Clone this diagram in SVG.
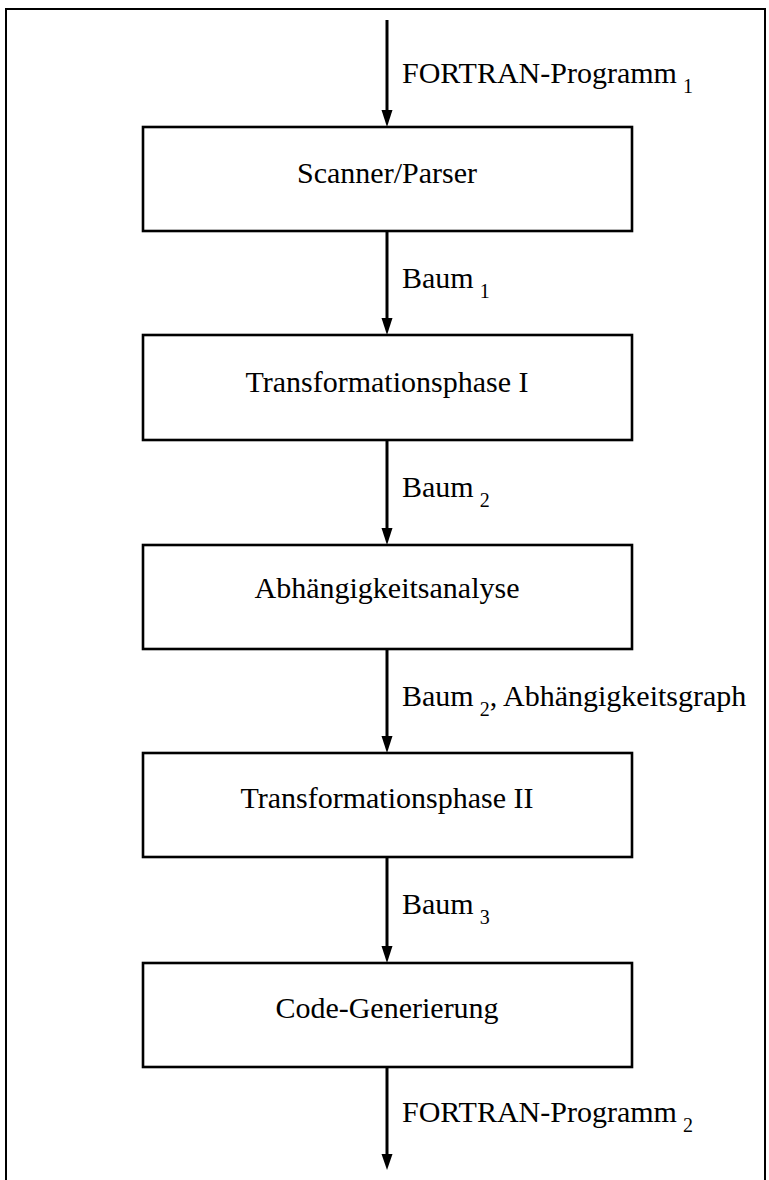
<svg xmlns="http://www.w3.org/2000/svg" width="769" height="1180" viewBox="0 0 769 1180">
<style>
.box{fill:#fff;stroke:#000;stroke-width:2.6}
.lbl{font-family:"Liberation Serif","Times New Roman",serif;font-size:30px;fill:#000}
.sub{font-size:20px}
.edge{stroke:#000;stroke-width:3;fill:none}
.head{fill:#000}
.frame{stroke:#000;stroke-width:2;fill:none}
</style>
<path class="frame" d="M6,1180 V9 H765 V1180"/>
<g id="edges">
<path class="edge" d="M387,20 V114"/>
<path class="head" d="M381.5,110 L387,127 L392.5,110 Z"/>
<path class="edge" d="M387,231 V322"/>
<path class="head" d="M381.5,318 L387,335 L392.5,318 Z"/>
<path class="edge" d="M387,440 V532"/>
<path class="head" d="M381.5,528 L387,545 L392.5,528 Z"/>
<path class="edge" d="M387,649 V740"/>
<path class="head" d="M381.5,736 L387,753 L392.5,736 Z"/>
<path class="edge" d="M387,857 V950"/>
<path class="head" d="M381.5,946 L387,963 L392.5,946 Z"/>
<path class="edge" d="M387,1067 V1158"/>
<path class="head" d="M381.5,1154 L387,1170 L392.5,1154 Z"/>
<text class="lbl" x="402" y="83">FORTRAN-Programm<tspan class="sub" dx="6" dy="10">1</tspan></text>
<text class="lbl" x="402" y="288">Baum<tspan class="sub" dx="6" dy="10">1</tspan></text>
<text class="lbl" x="402" y="497">Baum<tspan class="sub" dx="6" dy="10">2</tspan></text>
<text class="lbl" x="402" y="706">Baum<tspan class="sub" dx="6" dy="10">2</tspan><tspan dy="-10">, Abhängigkeitsgraph</tspan></text>
<text class="lbl" x="402" y="914">Baum<tspan class="sub" dx="6" dy="10">3</tspan></text>
<text class="lbl" x="402" y="1122">FORTRAN-Programm<tspan class="sub" dx="6" dy="10">2</tspan></text>
</g>
<g id="n1"><rect class="box" x="143" y="127" width="489" height="104"/><text class="lbl" x="387" y="183" text-anchor="middle">Scanner/Parser</text></g>
<g id="n2"><rect class="box" x="143" y="335" width="489" height="105"/><text class="lbl" x="387" y="392" text-anchor="middle">Transformationsphase I</text></g>
<g id="n3"><rect class="box" x="143" y="545" width="489" height="104"/><text class="lbl" x="387" y="598" text-anchor="middle">Abhängigkeitsanalyse</text></g>
<g id="n4"><rect class="box" x="143" y="753" width="489" height="104"/><text class="lbl" x="387" y="808" text-anchor="middle">Transformationsphase II</text></g>
<g id="n5"><rect class="box" x="143" y="963" width="489" height="104"/><text class="lbl" x="387" y="1018" text-anchor="middle">Code-Generierung</text></g>
</svg>
